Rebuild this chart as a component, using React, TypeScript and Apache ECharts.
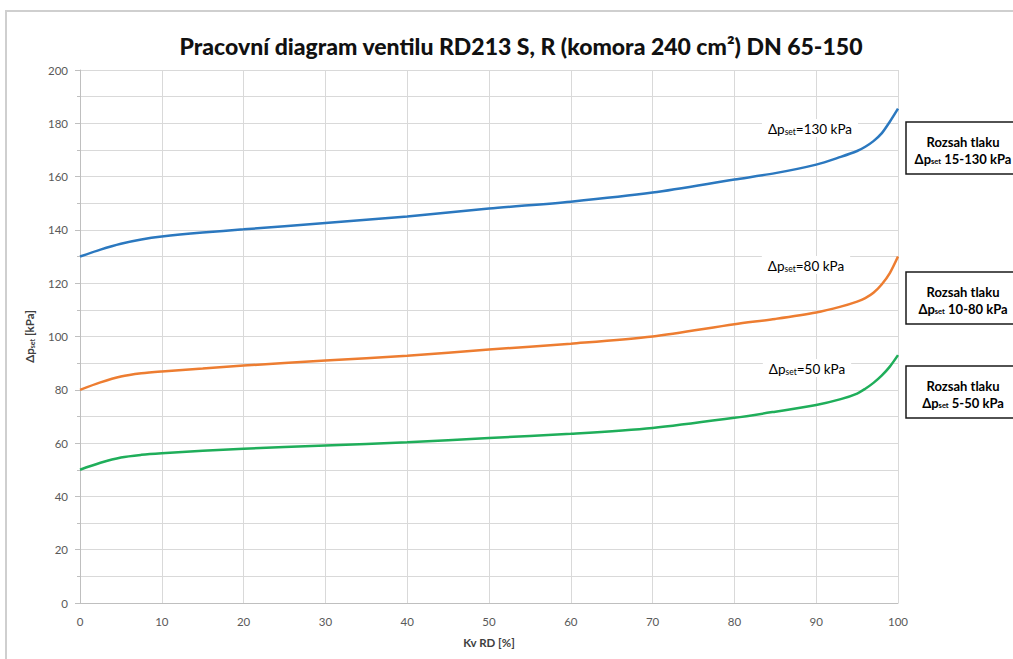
import React, { useEffect, useRef } from "react";
import * as echarts from "echarts";

const kv = [0, 2.5, 5, 7.5, 10, 15, 20, 30, 40, 50, 60, 70, 80, 85, 90, 93, 95, 96, 97, 98, 99, 100];
const p130 = [130, 132.6, 134.8, 136.4, 137.5, 139, 140.2, 142.6, 145, 148, 150.6, 154, 158.9, 161.3, 164.5, 167.4, 169.6, 171.2, 173.3, 176.2, 180.6, 185.5];
const p80 = [80, 82.8, 85, 86.2, 86.9, 88, 89.1, 91, 92.8, 95.1, 97.3, 100, 104.6, 106.6, 109, 111.2, 113.1, 114.4, 116.4, 119.5, 123.8, 130];
const p50 = [50, 52.6, 54.6, 55.6, 56.2, 57.1, 57.9, 59.1, 60.3, 61.9, 63.5, 65.7, 69.5, 71.8, 74.3, 76.5, 78.6, 80.4, 82.6, 85.3, 88.7, 93];

const seriesNames = ["Δpset=130 kPa", "Δpset=80 kPa", "Δpset=50 kPa"];
const curveLabels = ["=130 kPa", "=80 kPa", "=50 kPa"];
const rangeLabels = ["15-130 kPa", "10-80 kPa", "5-50 kPa"];
const colors = ["#2b78bf", "#ed7d31", "#1fae5a"];

const FONT = "Lato, 'Noto Sans', sans-serif";

const pairs = (ys: number[]) => kv.map((x, i) => [x, ys[i]]);

export default function App() {
  const ref = useRef<HTMLDivElement>(null);
  useEffect(() => {
    if (!ref.current) return;
    const chart = echarts.init(ref.current, undefined, { renderer: "svg" });
    const labelRich = {
      a: { fontSize: 13.5, color: "#595959", fontFamily: FONT, lineHeight: 16, verticalAlign: "bottom" },
      s: { fontSize: 8.5, color: "#595959", fontFamily: FONT, lineHeight: 2, verticalAlign: "bottom" },
    };
    const boxRich = {
      b: { fontSize: 13, color: "#111", fontWeight: "bold", fontFamily: FONT, lineHeight: 17, verticalAlign: "bottom" },
      s: { fontSize: 7.5, color: "#111", fontWeight: "bold", fontFamily: FONT, lineHeight: 3, verticalAlign: "bottom" },
    };
    const curveLabelPos = [
      [810, 128],
      [806, 265],
      [807, 368],
    ];
    const boxTop = [122, 272, 366];
    const graphics: any[] = [
      {
        type: "rect",
        shape: { x: 6, y: 11, width: 1030, height: 670 },
        style: { fill: "none", stroke: "#cfcfcf", lineWidth: 2 },
        silent: true,
      },
    ];
    curveLabels.forEach((t, i) => {
      graphics.push({
        type: "text",
        z: 10,
        style: {
          text: `{a|Δp}{s|set}{a|${t}}`,
          x: curveLabelPos[i][0],
          y: curveLabelPos[i][1],
          align: "center",
          verticalAlign: "middle",
          rich: labelRich,
          backgroundColor: "#ffffff",
          padding: [1, 6, 1, 6],
        },
      });
    });
    rangeLabels.forEach((t, i) => {
      graphics.push({
        type: "rect",
        z: 10,
        shape: { x: 906, y: boxTop[i], width: 114, height: 52 },
        style: { fill: "#ffffff", stroke: "#1a1a1a", lineWidth: 1.5 },
      });
      graphics.push({
        type: "text",
        z: 11,
        style: {
          text: `{b|Rozsah tlaku}\n{b|Δp}{s|set}{b| ${t}}`,
          x: 963,
          y: boxTop[i] + 26,
          align: "center",
          verticalAlign: "middle",
          rich: boxRich,
          lineHeight: 19,
        },
      });
    });
    const gridColor = "#d9d9d9";
    chart.setOption({
      animation: false,
      backgroundColor: "#ffffff",
      title: {
        text: "Pracovní diagram ventilu RD213 S, R (komora 240 cm²) DN 65-150",
        left: 516,
        textAlign: "center",
        top: 29,
        textStyle: { fontFamily: FONT, fontWeight: 900, fontSize: 23, color: "#111" },
      },
      grid: { left: 80, right: 115, top: 70, bottom: 56, containLabel: false },
      xAxis: {
        type: "value",
        min: 0,
        max: 100,
        interval: 10,
        name: "Kv RD [%]",
        nameLocation: "middle",
        nameGap: 33,
        nameTextStyle: { fontFamily: FONT, fontWeight: "bold", fontSize: 11.5, color: "#404040" },
        axisLine: { show: true, lineStyle: { color: "#bfbfbf" } },
        axisTick: { show: false },
        axisLabel: { fontFamily: FONT, fontSize: 11.5, color: "#595959", margin: 12 },
        splitLine: { show: true, lineStyle: { color: gridColor, width: 1 } },
      },
      yAxis: {
        type: "value",
        min: 0,
        max: 200,
        interval: 20,
        name: "{a|Δp}{s|set}{a| [kPa]}",
        nameLocation: "middle",
        nameGap: 45,
        nameRotate: 90,
        nameTextStyle: {
          rich: {
            a: { fontFamily: FONT, fontWeight: "bold", fontSize: 11.5, color: "#404040", lineHeight: 14, verticalAlign: "bottom" },
            s: { fontFamily: FONT, fontWeight: "bold", fontSize: 7, color: "#404040", lineHeight: 3, verticalAlign: "bottom" },
          },
        },
        axisLine: { show: true, lineStyle: { color: "#bfbfbf" } },
        axisTick: { show: true, length: 5, lineStyle: { color: "#bfbfbf" } },
        minorTick: { show: true, splitNumber: 2, length: 3, lineStyle: { color: "#bfbfbf" } },
        axisLabel: { fontFamily: FONT, fontSize: 11.5, color: "#595959", margin: 12 },
        splitLine: { show: true, lineStyle: { color: gridColor, width: 1 } },
        minorSplitLine: { show: true, lineStyle: { color: gridColor, width: 1 } },
      },
      series: [p130, p80, p50].map((ys, i) => ({
        name: seriesNames[i],
        type: "line",
        data: pairs(ys),
        smooth: 0.3,
        showSymbol: false,
        symbol: "none",
        lineStyle: { color: colors[i], width: 2.5 },
        itemStyle: { color: colors[i] },
        z: 5,
      })),
      graphic: graphics,
    });
    return () => chart.dispose();
  }, []);
  return (
    <div
      ref={ref}
      style={{ position: "fixed", left: 0, top: 0, width: 1013, height: 659, background: "#fff" }}
    />
  );
}
